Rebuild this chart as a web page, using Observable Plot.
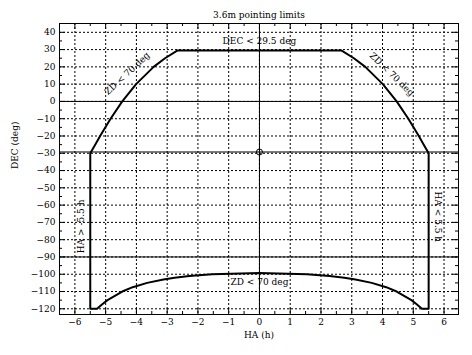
<!DOCTYPE html>
<html>
<head>
<meta charset="utf-8">
<script src="https://cdn.jsdelivr.net/npm/d3@7"></script>
<script src="https://cdn.jsdelivr.net/npm/@observablehq/plot@0.6"></script>
<style>
  html, body { margin: 0; padding: 0; background: white; }
</style>
</head>
<body>
<div id="chart"></div>
<script>
// Pointing-limit boundary (HA in hours, DEC in degrees)
const limitHA = [-5.5, -5.34, -5.18, -4.84, -4.46, -4.01, -3.44, -3.07, -2.66,
  2.66, 3.07, 3.44, 4.01, 4.46, 4.84, 5.18, 5.34, 5.5,
  5.5, 5.28, 5.12, 4.94, 4.46, 4.12, 3.65, 3.12, 2.76, 2.28, 1.54, 0,
  -1.54, -2.28, -2.76, -3.12, -3.65, -4.12, -4.46, -4.94, -5.12, -5.28, -5.5, -5.5];
const limitDEC = [-30, -25, -20, -10, 0, 10, 20, 25, 29.5,
  29.5, 25, 20, 10, 0, -10, -20, -25, -30,
  -120, -120, -117.5, -115, -110, -107.5, -105, -103, -102, -101, -100, -99.3,
  -100, -101, -102, -103, -105, -107.5, -110, -115, -117.5, -120, -120, -30];

// Zenith marker
const zenithHA = [0];
const zenithDEC = [-29.26];

// Reference solid lines
const solidHA = [0];
const solidDEC = [0, -29.26, -90];

// Ticks
const haMajor = [-6, -5, -4, -3, -2, -1, 0, 1, 2, 3, 4, 5, 6];
const haMinor = [-5.5, -4.5, -3.5, -2.5, -1.5, -0.5, 0.5, 1.5, 2.5, 3.5, 4.5, 5.5];
const decMajor = [40, 30, 20, 10, 0, -10, -20, -30, -40, -50, -60, -70, -80, -90, -100, -110, -120];
const decMinor = [35, 25, 15, 5, -5, -15, -25, -35, -45, -55, -65, -75, -85, -95, -105, -115];

// Annotations
const noteText = ["DEC < 29.5 deg", "ZD < 70 deg", "ZD < 70 deg", "ZD < 70 deg", "HA > -5.5 h", "HA < 5.5 h"];
const noteHA = [0, -4.3, 4.3, 0, -5.79, 5.79];
const noteDEC = [35, 16.2, 15.7, -104.8, -72.3, -66.8];
const noteRotate = [0, -43, 44, 0, -90, 90];

const title = "3.6m pointing limits";
const xLabel = "HA (h)";
const yLabel = "DEC (deg)";

const width = 472, height = 355;
const mL = 59, mR = 14, mT = 23, mB = 41;
const fw = width - mL - mR, fh = height - mT - mB;

const boundary = limitHA.map((h, i) => ({ha: h, dec: limitDEC[i]}));
const notes = noteText.map((t, i) => ({t, ha: noteHA[i], dec: noteDEC[i], r: noteRotate[i]}));
const zenith = zenithHA.map((h, i) => ({ha: h, dec: zenithDEC[i]}));

const grid = {stroke: "black", strokeWidth: 1, strokeDasharray: "2,2"};

const chart = Plot.plot({
  width, height,
  marginLeft: mL, marginRight: mR, marginTop: mT, marginBottom: mB,
  x: {domain: [-6.5, 6.47]},
  y: {domain: [-123.3, 45.1]},
  style: {fontFamily: "'DejaVu Serif', serif", fontSize: "9px", background: "white", color: "black"},
  marks: [
    Plot.ruleX(haMajor, {...grid}),
    Plot.ruleY(decMajor, {...grid}),
    Plot.ruleX(solidHA, {stroke: "black", strokeWidth: 1}),
    Plot.ruleY(solidDEC, {stroke: "black", strokeWidth: 1}),
    // inward ticks
    Plot.ruleX(haMajor, {stroke: "black", insetTop: fh - 6}),
    Plot.ruleX(haMajor, {stroke: "black", insetBottom: fh - 6}),
    Plot.ruleX(haMinor, {stroke: "black", insetTop: fh - 3}),
    Plot.ruleX(haMinor, {stroke: "black", insetBottom: fh - 3}),
    Plot.ruleY(decMajor, {stroke: "black", insetRight: fw - 6}),
    Plot.ruleY(decMajor, {stroke: "black", insetLeft: fw - 6}),
    Plot.ruleY(decMinor, {stroke: "black", insetRight: fw - 3}),
    Plot.ruleY(decMinor, {stroke: "black", insetLeft: fw - 3}),
    Plot.frame({stroke: "black", strokeWidth: 1}),
    Plot.line(boundary, {x: "ha", y: "dec", stroke: "black", strokeWidth: 2}),
    Plot.dot(zenith, {x: "ha", y: "dec", r: 3, stroke: "black", fill: "none", strokeWidth: 1}),
    Plot.axisX({ticks: haMajor, tickSize: 0, tickPadding: 4, label: null}),
    Plot.axisY({ticks: decMajor, tickSize: 0, tickPadding: 4, label: null}),
    Plot.text(notes, {x: "ha", y: "dec", text: "t", rotate: "r", fill: "black", fontSize: 9}),
    Plot.text([title], {frameAnchor: "top", lineAnchor: "middle", dy: -8, fill: "black", fontSize: 9}),
    Plot.text([xLabel], {frameAnchor: "bottom", lineAnchor: "middle", dy: 21, fill: "black", fontSize: 9}),
    Plot.text([yLabel], {frameAnchor: "left", dx: -44, rotate: -90, fill: "black", fontSize: 9})
  ]
});
document.getElementById("chart").appendChild(chart);
</script>
</body>
</html>
